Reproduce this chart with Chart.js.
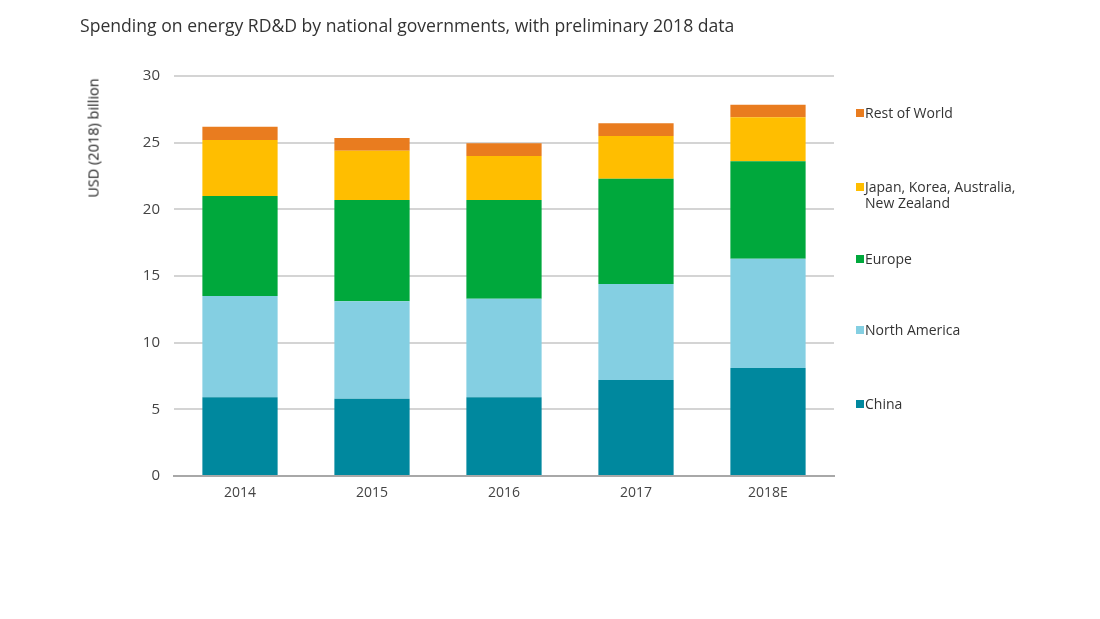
<!DOCTYPE html>
<html lang="en">
<head>
  <meta charset="UTF-8" />
  <title>Energy RD&amp;D spending</title>
  <script src="https://cdn.jsdelivr.net/npm/chart.js"></script>
  <style>
    body {
      margin: 0;
      background: #ffffff;
      font-family: "Open Sans", Arial, sans-serif;
      color: #333;
    }
    .wrap {
      position: relative;
      width: 1100px;
      height: 619px;
    }
    .title {
      position: absolute;
      left: 80px;
      top: 13px;
      font-size: 17.6px;
      color: #333;
    }
    .ytitle {
      position: absolute;
      left: 93px;
      top: 138px;
      transform: translate(-50%, -50%) rotate(-90deg);
      font-size: 14.5px;
      font-weight: 400;
      white-space: nowrap;
      color: #222;
    }
    .legend-item {
      position: absolute;
      left: 856px;
      font-size: 14px;
      line-height: 16px;
      color: #333;
      padding-left: 9px;
    }
    .legend-item span {
      position: absolute;
      left: 0;
      top: 4px;
      width: 8px;
      height: 8px;
    }
    canvas { position: absolute; left: 0; top: 0; }
  </style>
</head>
<body>
  <div class="wrap">
    <canvas id="rdd" width="1100" height="619"></canvas>
    <div class="title">Spending on energy RD&amp;D by national governments, with preliminary 2018 data</div>
    <div class="ytitle">USD (2018) billion</div>
    <div id="legend"></div>
  </div>

  <script>
    const years = ["2014", "2015", "2016", "2017", "2018E"];
    const china = [5.9, 5.8, 5.9, 7.2, 8.1];
    const northAmerica = [7.6, 7.3, 7.4, 7.2, 8.2];
    const europe = [7.5, 7.6, 7.4, 7.9, 7.3];
    const japanKoreaAus = [4.2, 3.7, 3.3, 3.2, 3.3];
    const restOfWorld = [1.0, 0.95, 0.95, 0.95, 0.95];
    const yTicks = [0, 5, 10, 15, 20, 25, 30];

    const series = [
      { label: "China", data: china, color: "#00889e", top: 396 },
      { label: "North America", data: northAmerica, color: "#84cfe2", top: 322 },
      { label: "Europe", data: europe, color: "#00a83c", top: 251 },
      { label: "Japan, Korea, Australia,\nNew Zealand", data: japanKoreaAus, color: "#ffbe00", top: 179 },
      { label: "Rest of World", data: restOfWorld, color: "#e97c1f", top: 105 }
    ];

    const legend = document.getElementById("legend");
    series.forEach(s => {
      const item = document.createElement("div");
      item.className = "legend-item";
      item.style.top = s.top + "px";
      item.innerHTML = '<span style="background:' + s.color + '"></span>' + s.label.replace("\n", "<br>");
      legend.appendChild(item);
    });

    const tickFont = { family: "'Open Sans', Arial, sans-serif", size: 14 };

    new Chart(document.getElementById("rdd").getContext("2d"), {
      type: "bar",
      data: {
        labels: years,
        datasets: series.map(s => ({
          label: s.label,
          data: s.data,
          backgroundColor: s.color,
          borderWidth: 0,
          barPercentage: 0.57,
          categoryPercentage: 1
        }))
      },
      options: {
        responsive: false,
        animation: false,
        layout: { padding: { left: 80, top: 76, right: 266, bottom: 0 } },
        plugins: {
          legend: { display: false },
          tooltip: { enabled: false }
        },
        scales: {
          x: {
            stacked: true,
            grid: { display: false, drawTicks: false },
            border: { color: "#a8a8a8", width: 2 },
            ticks: { color: "#444", padding: 9, font: tickFont },
            afterFit: scale => { scale.height = 143; }
          },
          y: {
            stacked: true,
            min: 0,
            max: 30,
            afterBuildTicks: scale => { scale.ticks = yTicks.map(v => ({ value: v })); },
            grid: { color: "#d4d4d4", lineWidth: 2, drawTicks: false },
            border: { display: false },
            ticks: { color: "#444", padding: 14, font: { family: tickFont.family, size: 15 } },
            afterFit: scale => { scale.width = 94; }
          }
        }
      }
    });
  </script>
</body>
</html>
